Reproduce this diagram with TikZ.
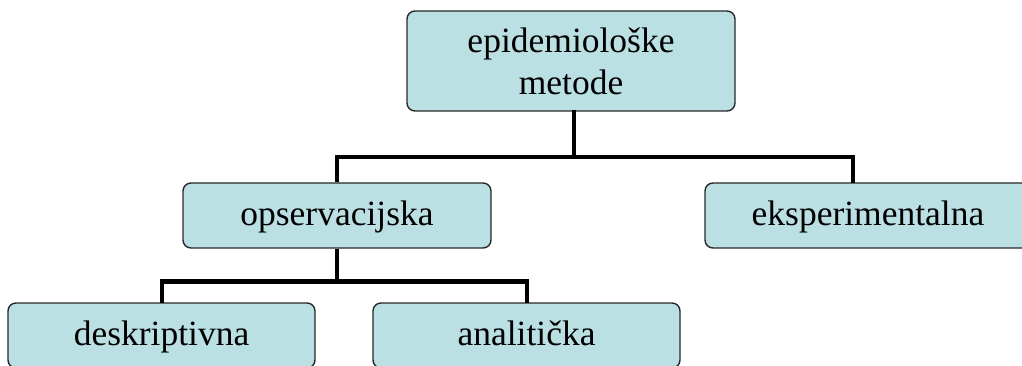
\documentclass[tikz,border=0pt]{standalone}
\usepackage{fontspec}
\setmainfont{Liberation Serif}
\definecolor{boxfill}{RGB}{186,224,227}
\definecolor{boxline}{RGB}{40,40,40}
\begin{document}
\begin{tikzpicture}[x=1pt,y=-1pt,
  box/.style={draw=boxline, line width=1.4pt, fill=boxfill, rounded corners=8pt,
    inner sep=0pt, align=center, font=\fontsize{35.5}{42}\selectfont},
  single/.style={text height=28pt, text depth=8pt},
  conn/.style={draw=black, line width=4.5pt, line join=miter, line cap=butt}]
\useasboundingbox (0,0) rectangle (1022,366);
\clip (0,0) rectangle (1022,366);
\node[box, minimum width=328pt, minimum height=100pt] (top) at (571,61) {epidemiološke\\metode};
\node[box, single, minimum width=308pt, minimum height=65pt] (ops) at (337,215.5) {opservacijska};
\node[box, single, minimum width=326pt, minimum height=65pt] (eks) at (868,215.5) {eksperimentalna};
\node[box, single, minimum width=307pt, minimum height=65pt] (desk) at (161.5,335.5) {deskriptivna};
\node[box, single, minimum width=307pt, minimum height=65pt] (ana) at (526.5,335.5) {analitička};
\coordinate (topout) at (574,110);
\coordinate (eksin) at (853,183);
\coordinate (deskin) at (162,303);
\coordinate (anain) at (527,303);
\draw[conn] (topout) -- ++(0,47) -| (ops.north);
\draw[conn] (topout) -- ++(0,47) -| (eksin);
\draw[conn] (ops.south) -- ++(0,33) -| (deskin);
\draw[conn] (ops.south) -- ++(0,33) -| (anain);
\end{tikzpicture}
\end{document}
